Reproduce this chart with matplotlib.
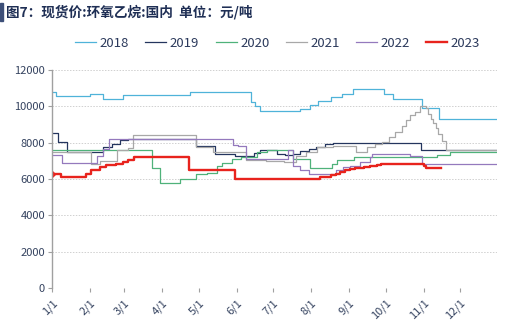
import matplotlib
matplotlib.use("Agg")
import matplotlib.pyplot as plt
from matplotlib.patches import Rectangle

plt.rcParams['font.family'] = ['Noto Sans CJK SC', 'DejaVu Sans']

# ---- data (day of year, price) ----
month_ticks = [0, 31, 59, 90, 120, 151, 181, 212, 243, 273, 304, 334]
month_labels = ['1/1', '2/1', '3/1', '4/1', '5/1', '6/1', '7/1', '8/1', '9/1', '10/1', '11/1', '12/1']

d2018 = [0, 3, 31, 42, 58, 113, 163, 166, 170, 203, 211, 218, 228, 237, 246, 272, 279, 303, 317, 363]
v2018 = [10800, 10550, 10650, 10400, 10600, 10800, 10250, 10000, 9750, 9850, 10050, 10300, 10500, 10700, 10950, 10650, 10400, 9900, 9300, 9300]

d2019 = [0, 5, 12, 42, 49, 56, 62, 118, 133, 150, 165, 170, 184, 191, 197, 203, 210, 216, 223, 230, 302, 364]
v2019 = [8550, 8050, 7500, 7750, 7950, 8150, 8200, 7800, 7400, 7250, 7450, 7600, 7350, 7300, 7400, 7550, 7650, 7750, 7900, 8000, 7600, 7600]

d2020 = [0, 82, 88, 105, 118, 127, 135, 139, 147, 155, 168, 176, 197, 211, 229, 233, 247, 315, 326, 364]
v2020 = [7600, 6600, 5800, 6000, 6300, 6350, 6700, 6900, 7100, 7200, 7500, 7600, 7100, 6600, 6850, 7050, 7200, 7300, 7500, 7500]

d2021 = [0, 32, 39, 53, 62, 66, 118, 132, 159, 175, 190, 200, 208, 217, 230, 249, 258, 264, 270, 276, 281, 286, 290, 293, 297, 301, 306, 308, 310, 312, 314, 316, 319, 322, 364]
v2021 = [7500, 6800, 7000, 7600, 7700, 8400, 7750, 7500, 7050, 7000, 6950, 7250, 7500, 7750, 7800, 7500, 7750, 7900, 8050, 8300, 8600, 8900, 9250, 9500, 9700, 10000, 9900, 9600, 9300, 9100, 8800, 8500, 8100, 7600, 7600]

d2022 = [0, 8, 37, 42, 47, 148, 152, 159, 193, 197, 203, 210, 230, 232, 238, 244, 252, 260, 262, 293, 303, 363]
v2022 = [7300, 6900, 7250, 7650, 8200, 7850, 7800, 7100, 7600, 6700, 6500, 6300, 6300, 6500, 6650, 6700, 6950, 7200, 7400, 7250, 6800, 6800]

d2023 = [0, 3, 7, 28, 32, 39, 44, 52, 58, 62, 67, 112, 150, 219, 228, 232, 236, 240, 244, 248, 255, 260, 266, 269, 301, 304, 306, 318]
v2023 = [6300, 6250, 6100, 6300, 6500, 6650, 6750, 6850, 6950, 7050, 7200, 6500, 6000, 6100, 6200, 6300, 6400, 6500, 6550, 6600, 6650, 6700, 6750, 6800, 6800, 6700, 6600, 6600]

series = [
    ('2018', d2018, v2018, '#4fb3d9', 0.9),
    ('2019', d2019, v2019, '#24355e', 0.9),
    ('2020', d2020, v2020, '#4fb27a', 0.9),
    ('2021', d2021, v2021, '#a8a8a8', 0.9),
    ('2022', d2022, v2022, '#9479bd', 0.9),
    ('2023', d2023, v2023, '#e8231d', 1.7),
]

fig = plt.figure(figsize=(5.17, 3.30), dpi=100)
ax = fig.add_axes([0.1006, 0.127, 0.8604, 0.661])

for name, d, v, c, lw in series:
    ax.plot(d, v, drawstyle='steps-post', color=c, lw=lw, label=name)
ax.plot(d2023[0], v2023[0], marker='D', ms=3, color='#e8231d', lw=0)

ax.set_xlim(0, 364)
ax.set_ylim(0, 12000)
ax.set_yticks(range(0, 12001, 2000))
ax.set_xticks(month_ticks)
ax.set_xticklabels(month_labels, rotation=45, ha='right', rotation_mode='anchor')
ax.tick_params(axis='both', labelsize=8, colors='#a0a0a0', labelcolor='#34425f', length=3, width=0.8)
ax.tick_params(axis='y', pad=2)
ax.tick_params(axis='x', pad=4)

ax.grid(axis='y', color='#d0d0d0', linestyle=(0, (1.5, 1.5)), lw=0.7)
ax.set_axisbelow(True)
for s in ['top', 'right', 'bottom']:
    ax.spines[s].set_visible(False)
ax.spines['left'].set_color('#a0a0a0')
ax.spines['left'].set_linewidth(1.0)

leg = fig.legend(loc='center', bbox_to_anchor=(0.537, 0.868), ncol=6, frameon=False,
                 fontsize=9.5, handlelength=1.6, handletextpad=0.25, columnspacing=1.25)
for t in leg.get_texts():
    t.set_color('#2c3a5c')

fig.patches.append(Rectangle((0.0, 0.935), 0.006, 0.055, transform=fig.transFigure, color='#3d4f78'))
fig.text(0.012, 0.962, '图7：现货价:环氧乙烷:国内  单位：元/吨', fontsize=9.8, fontweight='bold',
         color='#1f2f55', va='center', ha='left')

fig.savefig('out.png', dpi=100)
